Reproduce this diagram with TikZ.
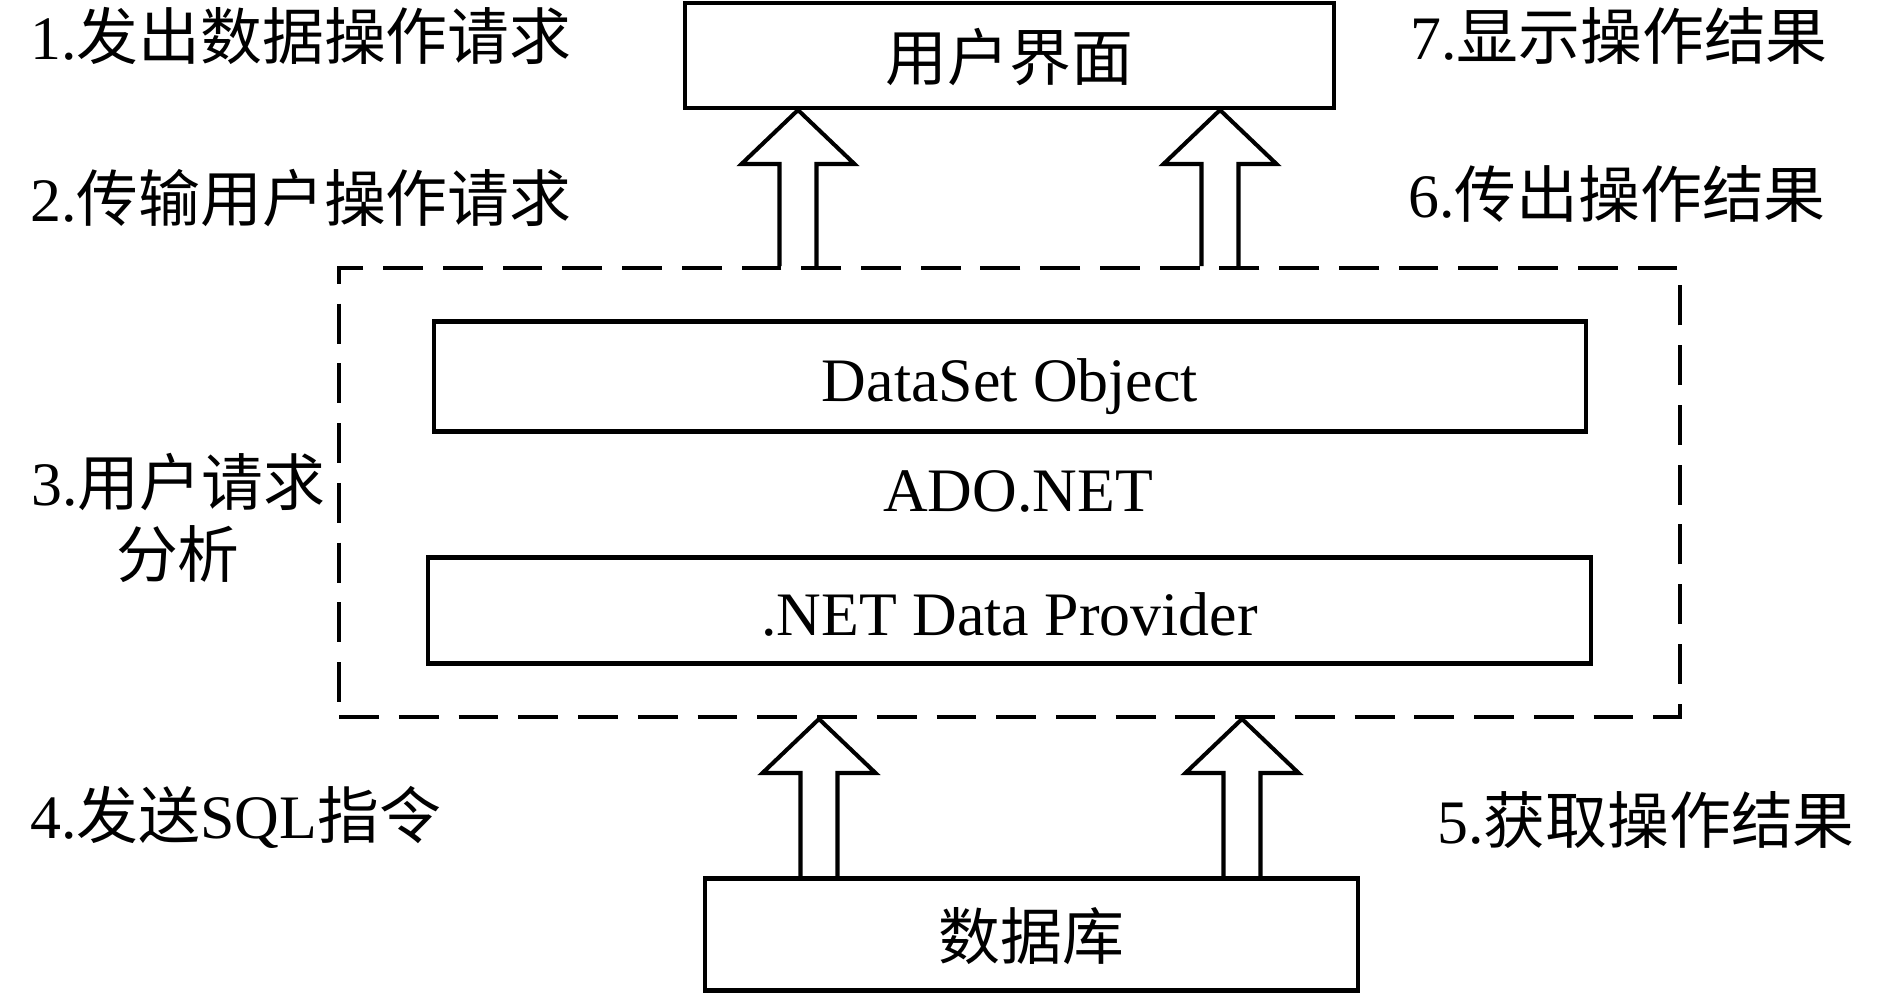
\documentclass[tikz,border=0pt]{standalone}
\usepackage{fontspec}
\setmainfont{Liberation Serif}
\newfontfamily\cjk{Noto Sans CJK SC}
\usetikzlibrary{calc}
\newcommand\fatarrow[2]{%
  \draw[fatline] ($(#1)+(-18.5,0)$) -- ($(#2)+(-18.5,54)$) -- ($(#2)+(-56.5,54)$)
    -- (#2) -- ($(#2)+(56.5,54)$) -- ($(#2)+(18.5,54)$) -- ($(#1)+(18.5,0)$);}
\begin{document}
\begin{tikzpicture}[x=0.02cm,y=-0.02cm,
  txt/.style={font=\fontsize{35.2}{41.4}\selectfont},
  box/.style={draw, line width=2.3pt, inner sep=0pt, txt,
              text height=31.7pt, text depth=3.5pt},
  dashbox/.style={draw, line width=2.3pt, dash pattern=on 22.7pt off 11.3pt, inner sep=0pt},
  lbl/.style={txt, inner sep=0pt, anchor=base west},
  fatline/.style={line width=2.3pt, line join=miter}]
\useasboundingbox (0,0) rectangle (1890,993);

% boxes
\node[box, minimum width=12.98cm, minimum height=2.1cm] (ui) at (1009.5,55.5) {\cjk 用户界面};
\node[dashbox, minimum width=26.82cm, minimum height=8.98cm] (dash) at (1009.5,492.5) {};
\node[box, minimum width=23.04cm, minimum height=2.2cm] (ds) at (1010,376.5) {DataSet Object};
\node[txt, inner sep=0pt, anchor=base] (ado) at (1018,511) {ADO.NET};
\node[box, minimum width=23.28cm, minimum height=2.12cm] (dp) at (1009.5,610.5) {.NET Data Provider};
\node[box, minimum width=13.06cm, minimum height=2.24cm] (db) at (1031.5,934.5) {\cjk 数据库};

% arrow positions
\coordinate (xa) at (798,0);
\coordinate (xb) at (1220,0);
\coordinate (xc) at (819,0);
\coordinate (xd) at (1242,0);

\fatarrow{xa |- dash.north}{xa |- ui.south}
\fatarrow{xb |- dash.north}{xb |- ui.south}
\fatarrow{xc |- db.north}{xc |- dash.south}
\fatarrow{xd |- db.north}{xd |- dash.south}

% labels
\node[lbl] (l1) at (30,60) {1.{\cjk 发出数据操作请求}};
\node[lbl] (l2) at (30,222) {2.{\cjk 传输用户操作请求}};
\node[txt, inner sep=0pt, align=center] (l3) at (178,518) {3.{\cjk 用户请求}\\{\cjk 分析}};
\node[lbl] (l4) at (30,838) {4.{\cjk 发送}SQL{\cjk 指令}};
\node[lbl] (l5) at (1437,843) {5.{\cjk 获取操作结果}};
\node[lbl] (l6) at (1408,218) {6.{\cjk 传出操作结果}};
\node[lbl] (l7) at (1410,60) {7.{\cjk 显示操作结果}};
\end{tikzpicture}
\end{document}
